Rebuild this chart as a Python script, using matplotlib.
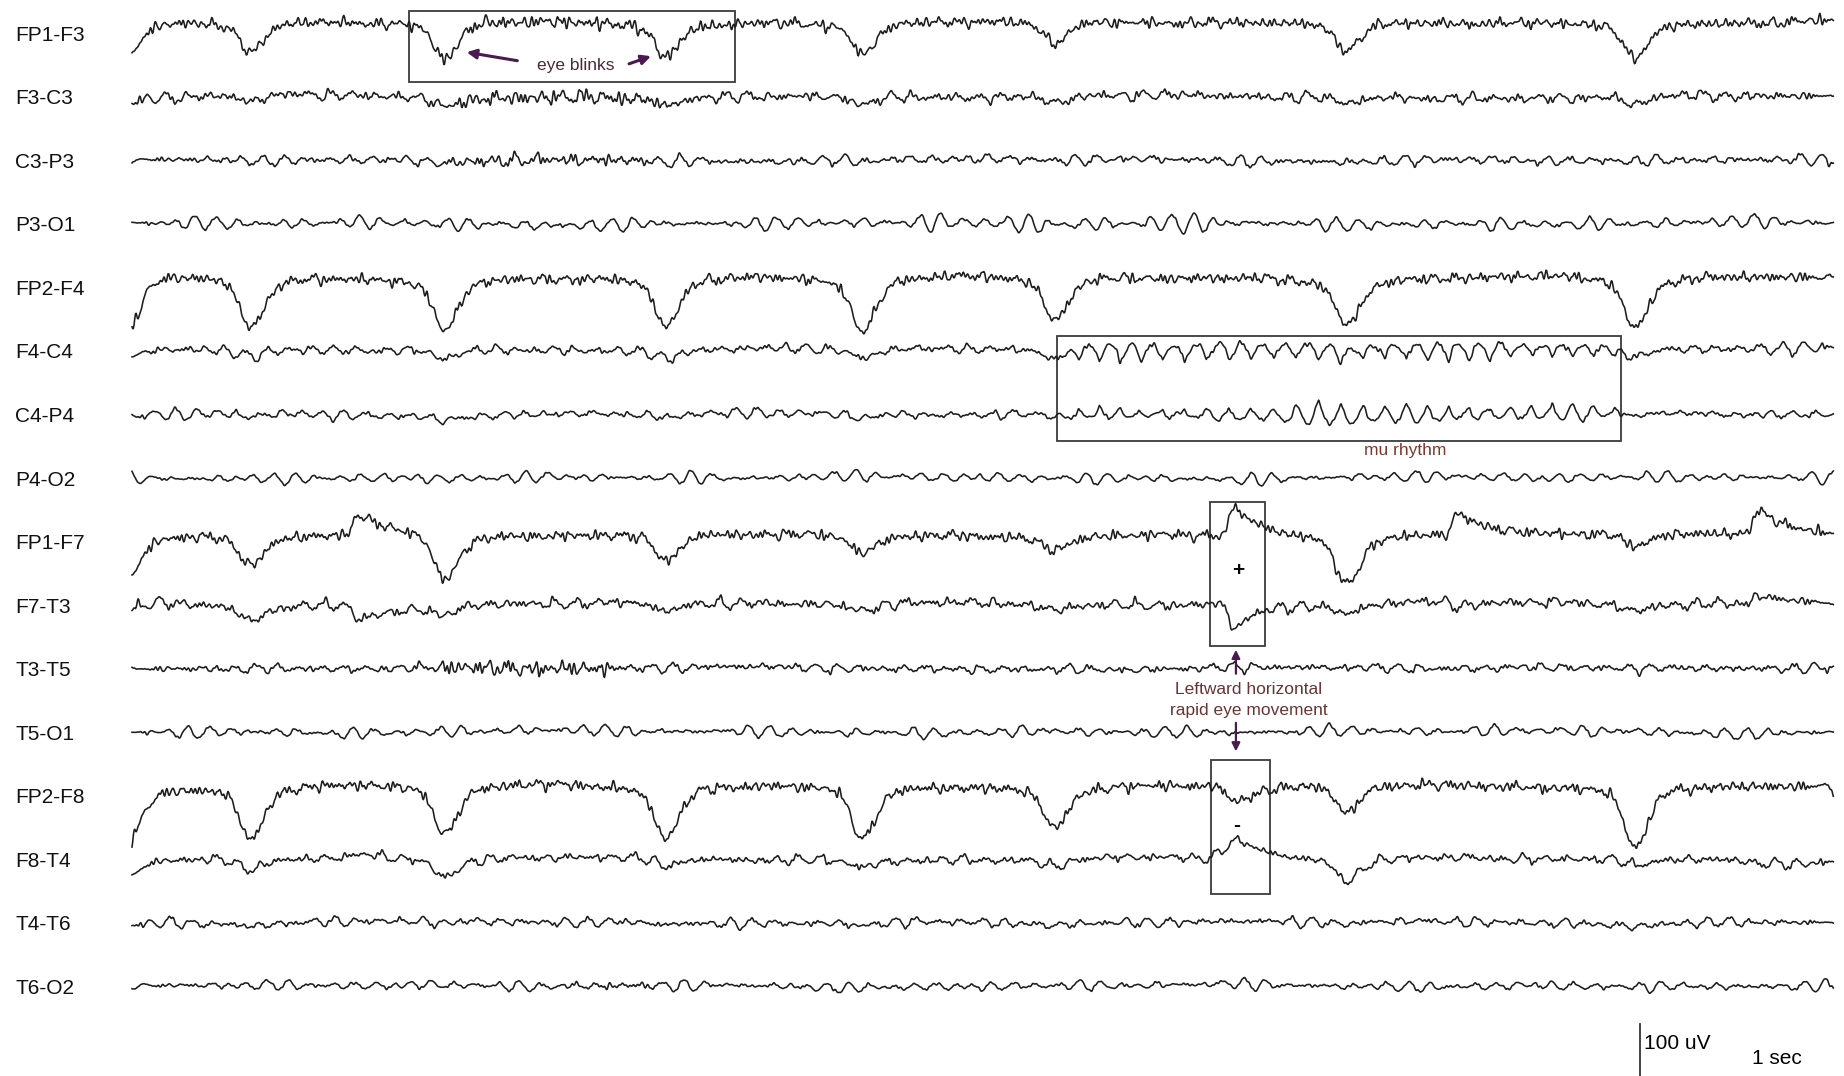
import numpy as np
import matplotlib.pyplot as plt
from matplotlib.patches import Rectangle

plt.rcParams['font.family'] = ['Liberation Sans', 'DejaVu Sans']

# ---- montage / data (amplitudes in uV, times in sec) ----
CHANNELS = ['FP1-F3', 'F3-C3', 'C3-P3', 'P3-O1',
            'FP2-F4', 'F4-C4', 'C4-P4', 'P4-O2',
            'FP1-F7', 'F7-T3', 'T3-T5', 'T5-O1',
            'FP2-F8', 'F8-T4', 'T4-T6', 'T6-O2']

# baseline shift of each trace relative to its label
OFFSET = [18, 0, 0, 0, 16, 2, 0, 0, 10, 2, 0, 0, 16, 0, 0, 0]

# eye blinks: times and depth per channel
BLINK_T = [-0.03, 0.696, 1.836, 3.134, 4.289, 5.42, 7.136, 8.829]
BLINK_DEPTH = {
    'FP1-F3': [56, 52, 64, 52, 52, 40, 50, 58],
    'F3-C3':  [12, 12, 16, 12, 16, 12, 12, 16],
    'C3-P3':  [3, 3, 4, 3, 4, 3, 3, 3],
    'FP2-F4': [90, 84, 88, 84, 88, 74, 76, 84],
    'F4-C4':  [12, 12, 16, 12, 16, 16, 8, 12],
    'C4-P4':  [6, 6, 8, 6, 8, 6, 4, 6],
    'FP1-F7': [72, 48, 76, 48, 32, 20, 80, 20],
    'F7-T3':  [10, 24, 16, 16, 10, 10, 16, 10],
    'FP2-F8': [90, 90, 80, 88, 92, 68, 48, 104],
    'F8-T4':  [28, 16, 30, 16, 12, 10, 36, 10],
    'T4-T6':  [4, 4, 4, 4, 4, 4, 4, 4],
}

# lateral (horizontal) eye movements
LEM_T = [1.297, 6.445, 7.758, 9.52]
LEM_TAU = [0.3, 0.15, 0.2, 0.25]
LEM_AMP = {
    'FP1-F7': [36, 60, 40, 44],
    'F7-T3':  [-28, -52, -10, 16],
    'FP2-F8': [0, -40, 0, 0],
    'F8-T4':  [8, 52, 0, -10],
}
LEM_RISE = {'F8-T4': 0.035, 'FP2-F8': 0.025}

# background activity per channel (std, uV)
FAST_AMP  = [3.4, 2.4, 1.5, 1.0, 3.4, 1.6, 1.2, 0.8, 3.4, 2.4, 1.7, 1.0, 3.4, 1.9, 1.4, 1.0]
ALPHA_AMP = [2.0, 3.2, 3.6, 4.6, 2.0, 3.0, 3.0, 4.0, 2.0, 3.2, 3.0, 4.0, 2.0, 3.2, 3.4, 3.6]
SLOW_AMP  = [2.0, 2.0, 1.5, 1.5, 2.0, 1.5, 1.5, 1.5, 2.2, 2.0, 1.5, 1.5, 2.0, 2.0, 1.5, 1.5]

FAST_HZ = [14.3, 18.1, 21.7, 26.3, 30.9, 36.2, 41.5, 47.3]
FAST_W = [0.9, 0.9, 0.8, 0.8, 0.8, 0.7, 0.7, 0.6]
ALPHA_HZ = [6.1, 7.3, 8.2, 9.4, 11.2]
ALPHA_W = [0.5, 0.8, 1.0, 0.7, 0.4]
SLOW_HZ = [0.21, 0.37, 0.63, 1.1, 2.3, 3.4]
SLOW_W = [1.0, 0.8, 0.7, 0.5, 0.4, 0.3]

# bursts: (channel, start, end, fast gain, alpha gain)
BURSTS = [('FP1-F3', 1.7, 3.5, 1.3, 1.0),
          ('F3-C3', 1.9, 3.1, 2.0, 1.0),
          ('C3-P3', 1.9, 3.0, 2.4, 1.0),
          ('T3-T5', 1.75, 2.85, 3.0, 1.0),
          ('P3-O1', 4.6, 6.8, 1.0, 1.5),
          ('T6-O2', 2.6, 3.1, 2.0, 1.0)]

# mu rhythm
MU_START, MU_END, MU_HZ = 5.45, 8.75, 7.9
MU_AMP = {'F4-C4': 32, 'C4-P4': -26}
MU_BASE = {'F4-C4': 0.2, 'C4-P4': 0.35}

FS = 250
DURATION = 10
ROW_GAP = 108
TOP_ROW = -56

t = np.arange(0, DURATION, 1 / FS)
GOLD = 2.39996


def band(i, freqs, weights, shift):
    s = np.zeros_like(t)
    for k, (f, w) in enumerate(zip(freqs, weights)):
        ph = ((i + 1) * (k + 1 + shift) * GOLD) % (2 * np.pi)
        s += w * np.sin(2 * np.pi * f * t + ph)
    return s / np.sqrt(np.sum(np.square(weights)) / 2)


def blink(t0):
    s = np.where(t < t0, 0.06, 0.075)
    g = np.exp(-0.5 * ((t - t0) / s) ** 2) + 0.15 * np.exp(-0.5 * ((t - t0) / 0.2) ** 2)
    return g / 1.15


def lem(t0, tau, rise_t=0.008):
    rise = 1 / (1 + np.exp(-(t - t0) / rise_t))
    return rise * np.exp(-np.clip(t - t0, 0, None) / tau)


def window(a, b, ramp=0.08):
    return 1 / (1 + np.exp(-(t - a) / ramp * 4)) * (1 / (1 + np.exp((t - b) / ramp * 4)))


fig = plt.figure(figsize=(18.44, 10.76), dpi=100)
ax = fig.add_axes([0, 0, 1, 1])
PX_PER_SEC = 170.2
UV_PER_PX = 1.7
ax.set_xlim(-132 / PX_PER_SEC, (1844 - 132) / PX_PER_SEC)
ax.set_ylim(-1076 * UV_PER_PX, 0)
ax.axis('off')

for i, name in enumerate(CHANNELS):
    fast_gain = np.ones_like(t)
    alpha_gain = np.ones_like(t)
    for ch, a, b, fg, ag in BURSTS:
        if ch == name:
            fast_gain += (fg - 1) * window(a, b, 0.15)
            alpha_gain += (ag - 1) * window(a, b, 0.2)
    sig = FAST_AMP[i] * fast_gain * band(i, FAST_HZ, FAST_W, 0)
    sig += ALPHA_AMP[i] * alpha_gain * band(i, ALPHA_HZ, ALPHA_W, 3)
    sig += SLOW_AMP[i] * band(i, SLOW_HZ, SLOW_W, 7)
    for t0, d in zip(BLINK_T, BLINK_DEPTH.get(name, [0] * len(BLINK_T))):
        sig -= d * blink(t0)
    for t0, tau, a in zip(LEM_T, LEM_TAU, LEM_AMP.get(name, [0] * len(LEM_T))):
        sig += a * lem(t0, tau, LEM_RISE.get(name, 0.008))
    if name in MU_AMP:
        phase = np.pi * MU_HZ * t + 0.5 * np.sin(2 * np.pi * 0.37 * t)
        w = np.abs(np.sin(phase)) - 0.637
        env = MU_BASE[name] + (1 - MU_BASE[name]) * window(MU_START, MU_END)
        env *= 0.85 + 0.15 * np.sin(2 * np.pi * 0.45 * t + i)
        sig += MU_AMP[name] * env * w
    y0 = TOP_ROW - ROW_GAP * i
    ax.plot(t, y0 + OFFSET[i] + sig, color='#1e1e1e', lw=1.15)
    ax.text(-117 / PX_PER_SEC, y0 - 4, name, fontsize=15, ha='left', va='center', color='#111111')

# ---- annotations ----
box_kw = dict(fill=False, edgecolor='#3a3a3a', lw=1.3)
ax.add_patch(Rectangle((1.628, -139), 3.543 - 1.628, 121, **box_kw))
ax.text(2.609, -112, 'eye blinks', fontsize=12.5, ha='center', va='center', color='#4a2a3a')
arrow_kw = dict(arrowstyle='-|>', color='#4a1a50', lw=2.2, mutation_scale=14)
ax.annotate('', xy=(1.95, -88), xytext=(2.28, -104), arrowprops=arrow_kw)
ax.annotate('', xy=(3.065, -94), xytext=(2.905, -110), arrowprops=arrow_kw)

ax.add_patch(Rectangle((5.435, -750), 8.749 - 5.435, 179, **box_kw))
ax.text(7.48, -766, 'mu rhythm', fontsize=12.5, ha='center', va='center', color='#7a3a2c')

ax.add_patch(Rectangle((6.334, -1098), 0.323, 245, **box_kw))
ax.add_patch(Rectangle((6.34, -1520), 0.346, 228, **box_kw))
ax.text(6.498, -969, '+', fontsize=15, fontweight='bold', ha='center', va='center')
ax.text(6.492, -1404, '-', fontsize=15, fontweight='bold', ha='center', va='center')
ax.text(6.563, -1172, 'Leftward horizontal', fontsize=12.5, ha='center', va='center', color='#6a3434')
ax.text(6.563, -1208, 'rapid eye movement', fontsize=12.5, ha='center', va='center', color='#6a3434')
em_kw = dict(arrowstyle='-|>', color='#4a1a50', lw=1.6, mutation_scale=12)
ax.annotate('', xy=(6.486, -1100), xytext=(6.486, -1150), arrowprops=em_kw)
ax.annotate('', xy=(6.486, -1282), xytext=(6.486, -1224), arrowprops=em_kw)

# ---- calibration ----
cal_x = (1640 - 132) / PX_PER_SEC
ax.plot([cal_x, cal_x], [-1740, -1840], color='#333333', lw=1.3, clip_on=True)
ax.text(cal_x + 0.025, -1774, '100 uV', fontsize=15, ha='left', va='center')
ax.text((1752 - 132) / PX_PER_SEC, -1800, '1 sec', fontsize=15, ha='left', va='center')

fig.savefig('out.png', dpi=100)
